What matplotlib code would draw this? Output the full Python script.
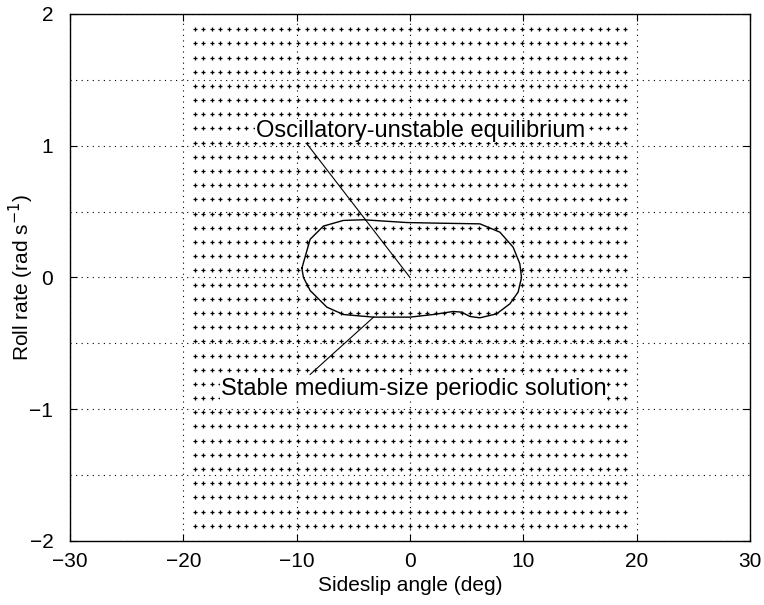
import numpy as np
import matplotlib
matplotlib.use('Agg')
import matplotlib.pyplot as plt

plt.rcParams['font.family'] = ['Liberation Sans', 'DejaVu Sans']

# Grid of state-space sample points (small arrows in the original plot)
beta_grid = np.linspace(-19, 19, 51)
p_grid = np.linspace(-1.885, 1.885, 36)

# Stable medium-size periodic solution (limit cycle)
cycle_beta = [-9.54, -8.81, -7.64, -5.88, -4.11, -0.29, 2.64, 6.17, 7.93, 9.10,
              9.69, 9.84, 9.54, 8.81, 7.64, 6.17, 5.29, 4.55, 3.82, 2.05,
              0.0, -3.23, -5.88, -7.34, -8.81, -9.40, -9.54]
cycle_p = [0.07, 0.29, 0.39, 0.433, 0.438, 0.417, 0.412, 0.407, 0.344, 0.23,
           0.104, 0.0, -0.111, -0.2, -0.276, -0.306, -0.296, -0.263, -0.258, -0.281,
           -0.301, -0.301, -0.281, -0.225, -0.099, 0.0, 0.07]

equilibrium = (0.0, 0.0)

fig = plt.figure(figsize=(7.64, 6.05), dpi=100)
ax = fig.add_axes([0.0916, 0.1058, 0.8901, 0.8711])

B, P = np.meshgrid(beta_grid, p_grid)
ax.plot(B.ravel(), P.ravel(), '+', color='black', ms=3.2, mew=0.9, zorder=2)

ax.plot(cycle_beta, cycle_p, color='black', lw=1.0, zorder=3)

# annotations
ax.plot([equilibrium[0], -9.1], [equilibrium[1], 1.015], color='black', lw=0.8, zorder=3)
ax.plot([-3.2, -8.81], [-0.30, -0.736], color='black', lw=0.8, zorder=3)
ax.text(-13.6, 1.115, 'Oscillatory-unstable equilibrium', fontsize=17, va='center',
        ha='left', zorder=4, bbox=dict(facecolor='white', edgecolor='none', pad=0.5))
ax.text(-16.7, -0.85, 'Stable medium-size periodic solution', fontsize=17, va='center',
        ha='left', zorder=4, bbox=dict(facecolor='white', edgecolor='none', pad=0.5))

ax.set_xlim(-30, 30)
ax.set_ylim(-2, 2)
ax.set_xticks(np.arange(-30, 31, 10))
ax.set_yticks([-2, -1, 0, 1, 2])
ax.set_yticks(np.arange(-1.5, 2, 1.0), minor=True)
ax.grid(True, which='both', linestyle=(0, (1, 4)), color='black', lw=0.8)
ax.tick_params(which='both', direction='in', top=True, right=True, labelsize=15, length=5)
ax.tick_params(axis='x', pad=8)
ax.tick_params(axis='y', pad=12)
ax.tick_params(which='minor', length=0)
for s in ax.spines.values():
    s.set_linewidth(1.0)

ax.set_xlabel('Sideslip angle (deg)', fontsize=15)
ax.set_ylabel('Roll rate (rad s$^{-1}$)', fontsize=15)
ax.xaxis.set_label_coords(0.5, -0.066)
ax.yaxis.set_label_coords(-0.05, 0.5)

fig.savefig('out.png', dpi=100)
